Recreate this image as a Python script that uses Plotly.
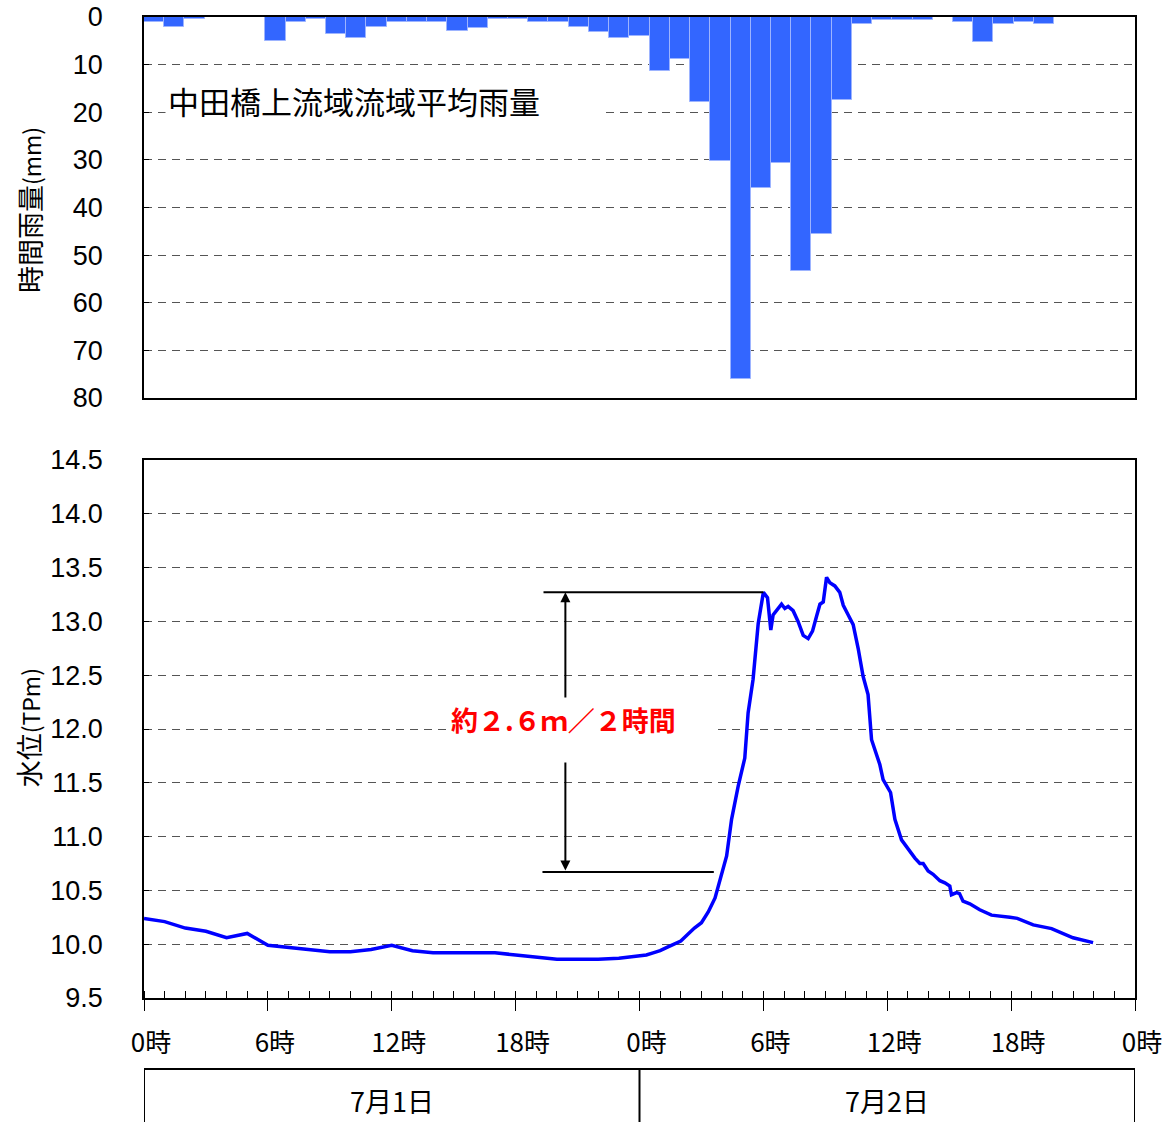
import plotly.graph_objects as go

# Hourly basin-average rainfall (mm), one value per hourly slot from 0時 on 7/1
rain_mm = [1.0, 2.0, 0.5, 0, 0, 0, 5.0, 1.0, 0.5, 3.5,
           4.5, 2.2, 1.0, 1.0, 1.0, 3.0, 2.4, 0.5, 0.5, 1.0,
           1.0, 2.0, 3.2, 4.4, 4.0, 11.3, 8.9, 17.9, 30.3, 76.0,
           35.8, 30.7, 53.4, 45.6, 17.4, 1.5, 0.7, 0.7, 0.6, 0,
           1.0, 5.2, 1.5, 1.0, 1.5]

# Water level (TPm) vs elapsed hours from 0時 on 7/1
level_hours = [0, 1, 2, 3, 4, 5, 6, 7, 8, 9,
               10, 11, 12, 13, 14, 15, 16, 17, 18, 19,
               20, 21, 22, 23, 24, 24.33, 24.66, 25.0, 25.33, 25.66,
               26.0, 26.33, 26.66, 27.0, 27.33, 27.66, 27.9, 28.22, 28.46, 28.78,
               29.1, 29.26, 29.5, 29.75, 30.0, 30.2, 30.36, 30.47, 30.88, 31.04,
               31.2, 31.44, 31.68, 31.93, 32.17, 32.38, 32.58, 32.74, 32.9, 33.06,
               33.22, 33.46, 33.7, 33.87, 34.11, 34.35, 34.59, 34.83, 35.07, 35.24,
               35.64, 35.8, 36.16, 36.37, 36.69, 37.09, 37.34, 37.58, 37.74, 37.98,
               38.22, 38.55, 38.79, 39.03, 39.11, 39.36, 39.5, 39.67, 40.0, 40.48,
               41.05, 41.94, 42.3, 43.07, 43.96, 45.0, 45.97]
level_m = [10.24, 10.21, 10.15, 10.12, 10.06, 10.10, 9.99, 9.97, 9.95, 9.93,
           9.93, 9.95, 9.99, 9.94, 9.92, 9.92, 9.92, 9.92, 9.90, 9.88,
           9.86, 9.86, 9.86, 9.87, 9.89, 9.90, 9.92, 9.94, 9.97, 10.00,
           10.03, 10.09, 10.15, 10.20, 10.30, 10.43, 10.60, 10.82, 11.16, 11.47,
           11.73, 12.15, 12.46, 12.98, 13.27, 13.22, 12.92, 13.06, 13.16, 13.12,
           13.14, 13.10, 13.00, 12.87, 12.84, 12.91, 13.05, 13.16, 13.18, 13.41,
           13.36, 13.33, 13.27, 13.15, 13.06, 12.97, 12.75, 12.49, 12.32, 11.90,
           11.67, 11.53, 11.41, 11.16, 10.97, 10.86, 10.80, 10.75, 10.75, 10.68,
           10.65, 10.59, 10.57, 10.54, 10.46, 10.48, 10.47, 10.40, 10.375, 10.32,
           10.27, 10.25, 10.24, 10.18, 10.145, 10.06, 10.015]

hour_tickvals = [0, 6, 12, 18, 24, 30, 36, 42, 48]
hour_ticktext = ["0時", "6時", "12時", "18時", "0時", "6時", "12時", "18時", "0時"]
day_centers = [12, 36]
day_labels = ["7月1日", "7月2日"]

rise_hour = 30          # 6時 on 7/2, the first crest
rise_m = 2.6            # rise over the two hours before it
rise_top = level_m[level_hours.index(rise_hour)]
rise_bottom = rise_top - rise_m

JP = "Noto Sans CJK JP"
NUM = "Liberation Sans, Arial, sans-serif"

fig = go.Figure()

fig.add_trace(go.Bar(
    x=[i + 0.5 for i in range(len(rain_mm))], y=rain_mm, width=1,
    marker=dict(color="#3366FF", line=dict(color="#9DB4FF", width=1)),
    xaxis="x", yaxis="y", showlegend=False,
))

fig.add_trace(go.Scatter(
    x=level_hours, y=level_m, mode="lines",
    line=dict(color="#0000FF", width=3.5),
    xaxis="x2", yaxis="y2", showlegend=False,
))

grid = dict(showgrid=True, gridcolor="#555555", gridwidth=1, griddash="8px,6px")
frame = dict(showline=True, linecolor="black", linewidth=1.5, mirror=True, automargin=False)

fig.update_layout(
    width=1176, height=1122,
    margin=dict(l=144, r=41, t=17, b=124, autoexpand=False),
    paper_bgcolor="white", plot_bgcolor="white",
    bargap=0,
    xaxis=dict(domain=[0, 1], range=[0, 49], showticklabels=False, ticks="",
               showgrid=False, zeroline=False, anchor="y", **frame),
    yaxis=dict(domain=[0.6116, 1], range=[80, 0], dtick=10, ticks="inside", ticklen=5,
               tickcolor="black", tickfont=dict(family=NUM, size=27, color="black"),
               ticklabelstandoff=34, zeroline=False, anchor="x", **grid, **frame),
    xaxis2=dict(domain=[0, 1], range=[0, 48], tickvals=hour_tickvals, ticktext=hour_ticktext,
                ticks="outside", ticklen=11, tickcolor="black", tickwidth=1,
                minor=dict(ticks="inside", dtick=1, ticklen=7, tickcolor="black", tickwidth=1),
                tickfont=dict(family=JP, size=26, color="black"),
                ticklabelshift=7, ticklabelstandoff=10,
                showgrid=False, zeroline=False, anchor="y2", **frame),
    yaxis2=dict(domain=[0, 0.5484], range=[9.5, 14.5], dtick=0.5, tick0=9.5,
                tickformat=".1f", ticks="inside", ticklen=5, tickcolor="black",
                tickfont=dict(family=NUM, size=27, color="black"),
                ticklabelstandoff=34, zeroline=False, anchor="x2", **grid, **frame),
)

# Rise markers: reference lines at the crest and two-hours-earlier level
fig.add_shape(type="line", xref="x2", yref="y2", x0=19.35, x1=rise_hour,
              y0=rise_top, y1=rise_top, line=dict(color="black", width=2))
fig.add_shape(type="line", xref="x2", yref="y2", x0=19.3, x1=27.6,
              y0=rise_bottom, y1=rise_bottom, line=dict(color="black", width=2))

# Double-headed arrow spanning the rise
fig.add_annotation(xref="x2", yref="y2", axref="x2", ayref="y2",
                   x=20.41, y=rise_top, ax=20.41, ay=rise_bottom, text="",
                   showarrow=True, arrowside="end+start", arrowhead=2,
                   arrowsize=1, arrowwidth=2, arrowcolor="black",
                   standoff=0, startstandoff=0)

fig.add_annotation(xref="x2", yref="y2", x=21.2, y=11.993,
                   text="<b>約２.６ｍ／２時間</b>", showarrow=False,
                   font=dict(family=JP, size=27, color="#FF0000"),
                   bgcolor="white", width=262, height=60, borderpad=2,
                   align="left", valign="top")

# Rainfall panel caption
fig.add_annotation(xref="paper", yref="paper", x=0.0212, y=0.9154,
                   xanchor="left", yanchor="middle",
                   text="中田橋上流域流域平均雨量", showarrow=False,
                   font=dict(family=JP, size=31, color="black"),
                   bgcolor="white", width=432, height=42, borderpad=2, align="left")

# Axis titles
fig.add_annotation(xref="paper", yref="paper", x=-0.115, y=0.8033,
                   xanchor="center", yanchor="middle", textangle=-90,
                   text="時間雨量<span style='font-size:23px'>(mm)</span>",
                   showarrow=False, font=dict(family=JP, size=27, color="black"))
fig.add_annotation(xref="paper", yref="paper", x=-0.117, y=0.275,
                   xanchor="center", yanchor="middle", textangle=-90,
                   text="水位<span style='font-size:23px'>(TPm)</span>",
                   showarrow=False, font=dict(family=JP, size=27, color="black"))

# Date band under the time axis
band_top = -0.0724
fig.add_shape(type="line", xref="x2", yref="paper", x0=0, x1=48,
              y0=band_top, y1=band_top, line=dict(color="black", width=2))
for xv in [0, 24, 48]:
    fig.add_shape(type="line", xref="x2", yref="paper", x0=xv, x1=xv,
                  y0=band_top, y1=-0.15, line=dict(color="black", width=2))
for xc, lab in zip(day_centers, day_labels):
    fig.add_annotation(xref="x2", yref="paper", x=xc, y=-0.104,
                       text=lab, showarrow=False, yanchor="middle",
                       font=dict(family=JP, size=27, color="black"))

fig.write_html("out.html")
